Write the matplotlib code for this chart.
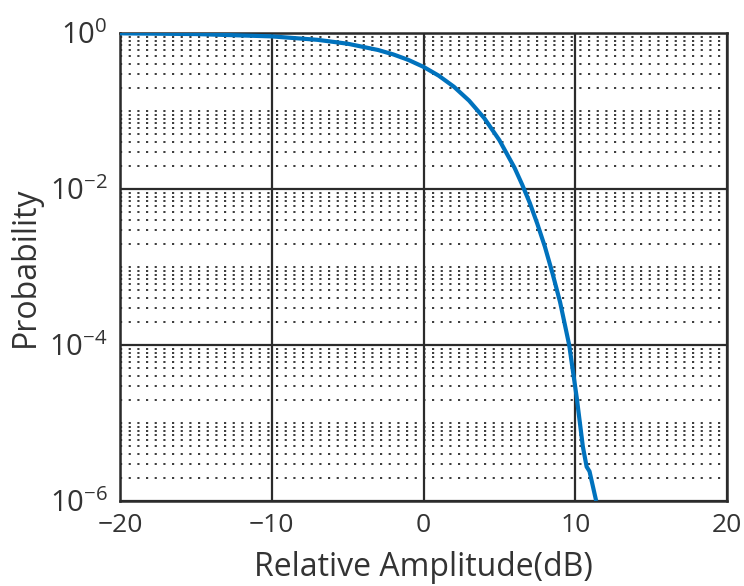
import numpy as np
import matplotlib
matplotlib.use("Agg")
import matplotlib.pyplot as plt
from matplotlib.ticker import FixedLocator, LogLocator, FuncFormatter, NullFormatter

plt.rcParams['font.family'] = ['Open Sans', 'DejaVu Sans']
plt.rcParams['mathtext.fontset'] = 'custom'
plt.rcParams['mathtext.rm'] = 'Open Sans'
plt.rcParams['mathtext.it'] = 'Open Sans'
plt.rcParams['mathtext.default'] = 'regular'

# Data (relative amplitude in dB vs probability)
amp_db = [-20, -15, -10, -7, -5, -3, -2, -1, 0, 1, 2, 3, 4, 5, 6, 6.5, 7, 7.5, 8, 8.5, 9,
          9.6, 10.1, 10.5, 10.75, 10.94, 11.38]
prob = [0.990, 0.969, 0.905, 0.818, 0.729, 0.606, 0.532, 0.452, 0.368, 0.284, 0.205,
        0.136, 0.0811, 0.0423, 0.0187, 0.0114, 0.00666, 0.00358, 0.00182, 8.3e-4, 3.55e-4,
        1.0e-4, 2.1e-5, 5.0e-6, 2.75e-6, 2.4e-6, 1.0e-6]

x_ticks = [-20, -10, 0, 10, 20]
y_ticks = [1e-6, 1e-4, 1e-2, 1e0]

fig = plt.figure(figsize=(7.44, 5.86), dpi=100)
ax = fig.add_axes([120/744, 1 - 501/586, 607/744, 468/586])

ax.set_yscale('log')
ax.set_xlim(-20, 20)
ax.set_ylim(1e-6, 1)

ax.plot(amp_db, prob, color='#0072BD', lw=3.0, zorder=5, clip_on=True,
        solid_capstyle='butt')

ax.xaxis.set_major_locator(FixedLocator(x_ticks))
ax.yaxis.set_major_locator(FixedLocator(y_ticks))
ax.yaxis.set_minor_locator(LogLocator(base=10, subs=np.arange(1, 10), numticks=100))
ax.yaxis.set_minor_formatter(NullFormatter())

def yfmt(v, pos):
    e = int(round(np.log10(v)))
    return r'$10^{%d}$' % e if e < 0 else r'$10^{0}$'
ax.yaxis.set_major_formatter(FuncFormatter(yfmt))
ax.xaxis.set_major_formatter(FuncFormatter(lambda v, p: ('\u2212%d' % -v) if v < 0 else '%d' % v))

gridc = '#2b2b2b'
ax.grid(True, which='major', axis='both', color=gridc, lw=1.6, ls='-')
ax.grid(True, which='minor', axis='y', color=gridc, lw=1.3, ls=(0, (1.2, 3.6)))
ax.set_axisbelow(True)

for s in ax.spines.values():
    s.set_color(gridc)
    s.set_linewidth(1.8)

ax.tick_params(axis='both', which='both', length=0, colors='#333333')
ax.tick_params(axis='x', pad=9, labelsize=19)
ax.tick_params(axis='y', pad=9, labelsize=21)

ax.set_xlabel('Relative Amplitude(dB)', fontsize=23, color='#333333', va='center')
ax.set_ylabel('Probability', fontsize=23, color='#333333', va='center')
ax.xaxis.set_label_coords(0.5, (501 - 568) / 468)
ax.yaxis.set_label_coords((25 - 120) / 607, 0.5)

fig.savefig('out.png', dpi=100, facecolor='white')
